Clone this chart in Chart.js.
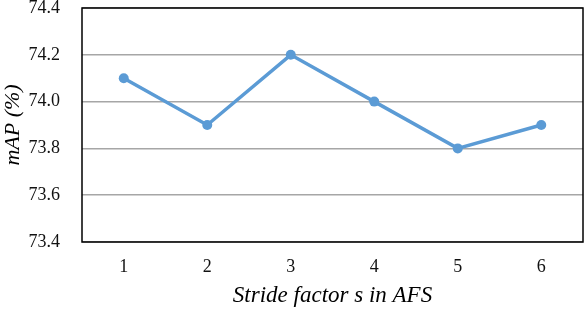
<!DOCTYPE html>
<html>
<head>
<meta charset="utf-8">
<script src="https://cdn.jsdelivr.net/npm/chart.js@4"></script>
<style>
html,body{margin:0;padding:0;background:#fff;}
#wrap{width:588px;height:310px;position:relative;}
</style>
</head>
<body>
<div id="wrap"><canvas id="c" width="588" height="310"></canvas></div>
<script>
const categories = ['1', '2', '3', '4', '5', '6'];
const mapValues = [74.1, 73.9, 74.2, 74.0, 73.8, 73.9];
const yTicks = [73.4, 73.6, 73.8, 74.0, 74.2, 74.4];
const xTitle = 'Stride factor s in AFS';
const yTitle = 'mAP (%)';

const plotBorder = {
  id: 'plotBorder',
  beforeDatasetsDraw(chart) {
    const {ctx, chartArea: a} = chart;
    ctx.save();
    ctx.strokeStyle = '#000';
    ctx.lineWidth = 1.5;
    ctx.strokeRect(a.left, a.top, a.right - a.left, a.bottom - a.top);
    ctx.restore();
  }
};

new Chart(document.getElementById('c'), {
  type: 'line',
  data: {
    labels: categories,
    datasets: [{
      data: mapValues,
      borderColor: '#5B9BD5',
      backgroundColor: '#5B9BD5',
      borderWidth: 3.5,
      pointRadius: 5,
      pointHoverRadius: 5,
      pointBorderWidth: 0,
      tension: 0,
      clip: false
    }]
  },
  options: {
    responsive: false,
    animation: false,
    layout: {padding: {left: 0, right: 4, top: 8, bottom: 0}},
    plugins: {legend: {display: false}, tooltip: {enabled: false}},
    scales: {
      x: {
        type: 'category',
        offset: true,
        grid: {display: false, drawTicks: false},
        border: {display: false},
        ticks: {color: '#111', font: {family: 'Liberation Serif', size: 18}, padding: 14, maxRotation: 0},
        title: {display: true, text: xTitle, color: '#000', font: {family: 'Liberation Serif', size: 23, style: 'italic'}, padding: {top: 0, bottom: 0}},
        afterFit(s) { s.height = 68; s.paddingLeft = 0; s.paddingRight = 0; }
      },
      y: {
        min: 73.4,
        max: 74.4,
        afterBuildTicks(s) { s.ticks = yTicks.map(v => ({value: v})); },
        grid: {color: '#A6A6A6', lineWidth: 1.5, drawTicks: false},
        border: {display: false},
        ticks: {color: '#111', font: {family: 'Liberation Serif', size: 18}, padding: 22,
          callback: v => Number(v).toFixed(1)},
        title: {display: true, text: yTitle, color: '#000', font: {family: 'Liberation Serif', size: 22, style: 'italic'}, padding: {top: 0, bottom: 0}},
        afterFit(s) { s.width = 82; s.paddingTop = 0; s.paddingBottom = 0; }
      }
    }
  },
  plugins: [plotBorder]
});
</script>
</body>
</html>
